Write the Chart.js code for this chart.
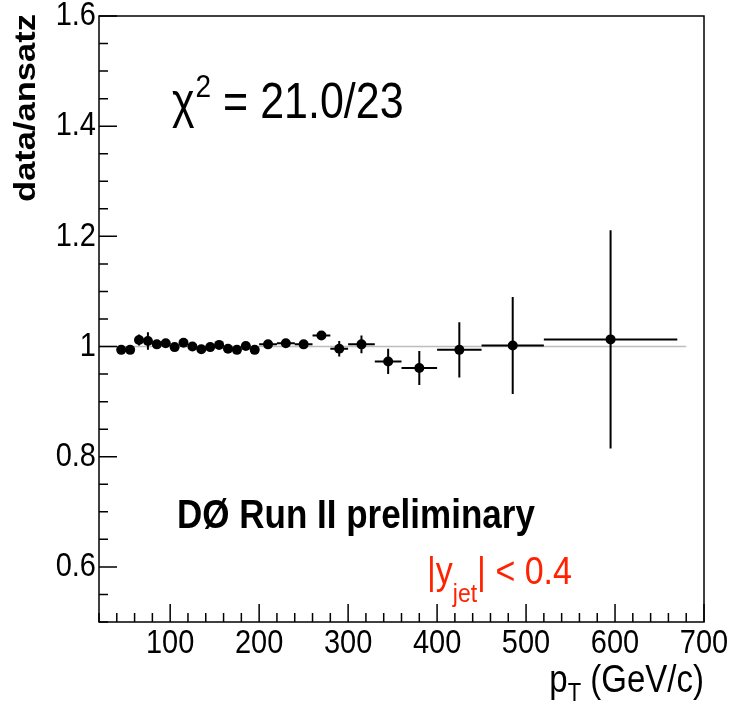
<!DOCTYPE html>
<html>
<head>
<meta charset="utf-8">
<script src="https://cdn.jsdelivr.net/npm/chart.js@4.4.1/dist/chart.umd.min.js"></script>
<style>
  html, body { margin: 0; padding: 0; background: #fff; }
  #wrap { width: 733px; height: 703px; }
</style>
</head>
<body>
<div id="wrap"><canvas id="c"></canvas></div>
<script>
// pT bins (GeV/c)
const binLow  = [40, 50, 60, 70, 80, 90, 100, 110, 120, 130, 140, 150, 160, 170, 180, 190,
                 200, 220, 240, 260, 280, 300, 330, 360, 400, 450, 520];
const binHigh = [50, 60, 70, 80, 90, 100, 110, 120, 130, 140, 150, 160, 170, 180, 190, 200,
                 220, 240, 260, 280, 300, 330, 360, 400, 450, 520, 670];
// data/ansatz ratio and its error
const ratio = [0.994, 0.994, 1.012, 1.010, 1.004, 1.006, 0.999, 1.007, 1.000, 0.995, 0.999, 1.003,
               0.996, 0.994, 1.001, 0.994, 1.004, 1.006, 1.004, 1.020, 0.996, 1.004, 0.973, 0.961,
               0.994, 1.002, 1.013];
const ratioErr = [0.004, 0.004, 0.010, 0.016, 0.005, 0.005, 0.005, 0.005, 0.005, 0.005, 0.005, 0.005,
                  0.005, 0.005, 0.005, 0.005, 0.005, 0.005, 0.006, 0.008, 0.014, 0.016, 0.023, 0.031,
                  0.050, 0.088, 0.198];
// ansatz reference line
const fitX = [20, 680];
const fitY = [1, 1];

const xTicks = [100, 200, 300, 400, 500, 600, 700];
const yTicks = [0.6, 0.8, 1, 1.2, 1.4, 1.6];

const FONT = "'Liberation Sans', Arial, Helvetica, sans-serif";
const STRETCH = 1.15; // glyphs in the original are a bit taller than Arial

const points = binLow.map((lo, i) => ({ x: (lo + binHigh[i]) / 2, y: ratio[i] }));

// draws text with the glyphs stretched vertically, returns advance width
function txt(ctx, s, x, y, font, align, base) {
  ctx.save();
  ctx.font = font;
  ctx.textAlign = align || 'left';
  ctx.textBaseline = base || 'alphabetic';
  ctx.translate(x, y);
  ctx.scale(1, STRETCH);
  ctx.fillText(s, 0, 0);
  const w = ctx.measureText(s).width;
  ctx.restore();
  return w;
}

const rootFrame = {
  id: 'rootFrame',
  beforeDatasetDraw(chart, args) {
    if (args.index !== 0) return;
    const x = chart.scales.x, y = chart.scales.y, ctx = chart.ctx;
    ctx.save();
    ctx.strokeStyle = '#000';
    ctx.lineWidth = 2;
    ctx.beginPath();
    binLow.forEach((lo, i) => {
      const yc = y.getPixelForValue(ratio[i]);
      ctx.moveTo(x.getPixelForValue(lo), yc);
      ctx.lineTo(x.getPixelForValue(binHigh[i]), yc);
      const xc = x.getPixelForValue((lo + binHigh[i]) / 2);
      ctx.moveTo(xc, y.getPixelForValue(ratio[i] - ratioErr[i]));
      ctx.lineTo(xc, y.getPixelForValue(ratio[i] + ratioErr[i]));
    });
    ctx.stroke();
    ctx.restore();
  },
  afterDraw(chart) {
    const x = chart.scales.x, y = chart.scales.y, ctx = chart.ctx;
    const a = chart.chartArea;
    ctx.save();
    ctx.strokeStyle = '#000';
    ctx.lineWidth = 1.5;
    ctx.strokeRect(a.left, a.top, a.right - a.left, a.bottom - a.top);

    // inward ticks
    ctx.beginPath();
    for (let v = 20; v <= 700; v += 20) {
      const px = x.getPixelForValue(v);
      const len = v % 100 === 0 ? 18 : 9;
      ctx.moveTo(px, a.bottom);
      ctx.lineTo(px, a.bottom - len);
    }
    for (let k = 10; k <= 32; k++) {
      const py = y.getPixelForValue(k * 0.05);
      const len = k % 4 === 0 ? 18 : 9;
      ctx.moveTo(a.left, py);
      ctx.lineTo(a.left + len, py);
    }
    ctx.stroke();

    ctx.fillStyle = '#000';
    // tick labels
    const tickFont = '29px ' + FONT;
    xTicks.forEach(v => txt(ctx, String(v), x.getPixelForValue(v), 653, tickFont, 'center'));
    yTicks.forEach(v => txt(ctx, String(v), 96, y.getPixelForValue(v), tickFont, 'right', 'middle'));

    // y title (stretched along its length)
    ctx.save();
    ctx.translate(35, 108);
    ctx.rotate(-Math.PI / 2);
    ctx.scale(STRETCH, 1);
    ctx.font = 'bold 30px ' + FONT;
    ctx.textAlign = 'center';
    ctx.fillText('data/ansatz', 0, 0);
    ctx.restore();

    // x title, right aligned to the frame
    ctx.font = '33px ' + FONT;
    const wRest = ctx.measureText(' (GeV/c)').width;
    const wp = ctx.measureText('p').width;
    ctx.font = '22px ' + FONT;
    const wT = ctx.measureText('T').width;
    let tx = 704 - wRest - wT - wp;
    tx += txt(ctx, 'p', tx, 692, '33px ' + FONT);
    tx += txt(ctx, 'T', tx, 701, '22px ' + FONT);
    txt(ctx, ' (GeV/c)', tx, 692, '33px ' + FONT);

    // chi2 label
    let cx = 172;
    cx += txt(ctx, '\u03c7', cx, 118, '43px ' + FONT) + 1;
    cx += txt(ctx, '2', cx, 97, '28px ' + FONT);
    txt(ctx, ' = 21.0/23', cx, 118, '43px ' + FONT);

    // experiment label
    txt(ctx, 'D\u00d8 Run II preliminary', 177, 528, 'bold 35px ' + FONT);

    // rapidity label
    ctx.fillStyle = '#ff2200';
    let rx = 427;
    rx += txt(ctx, '|y', rx, 584, '34px ' + FONT);
    rx += txt(ctx, 'jet', rx, 602, '23px ' + FONT);
    txt(ctx, '| < 0.4', rx, 584, '34px ' + FONT);
    ctx.restore();
  }
};

new Chart(document.getElementById('c'), {
  type: 'scatter',
  data: {
    datasets: [
      {
        data: points,
        pointRadius: 5,
        pointHoverRadius: 5,
        pointBackgroundColor: '#000',
        pointBorderColor: '#000',
        borderWidth: 0,
        order: 0
      },
      {
        type: 'line',
        data: fitX.map((v, i) => ({ x: v, y: fitY[i] })),
        borderColor: '#bdbdbd',
        borderWidth: 1.5,
        pointRadius: 0,
        fill: false,
        order: 1
      }
    ]
  },
  options: {
    responsive: true,
    maintainAspectRatio: false,
    animation: false,
    events: [],
    layout: { padding: { top: 16, right: 29, left: 0, bottom: 0 } },
    plugins: { legend: { display: false }, tooltip: { enabled: false } },
    scales: {
      x: {
        type: 'linear',
        min: 20,
        max: 700,
        afterBuildTicks: s => { s.ticks = xTicks.map(v => ({ value: v })); },
        afterFit: s => { s.height = 81; },
        grid: { display: false, drawTicks: false },
        border: { display: false },
        ticks: { display: false }
      },
      y: {
        type: 'linear',
        min: 0.5,
        max: 1.6,
        afterBuildTicks: s => { s.ticks = yTicks.map(v => ({ value: v })); },
        afterFit: s => { s.width = 99; },
        grid: { display: false, drawTicks: false },
        border: { display: false },
        ticks: { display: false }
      }
    }
  },
  plugins: [rootFrame]
});
</script>
</body>
</html>
